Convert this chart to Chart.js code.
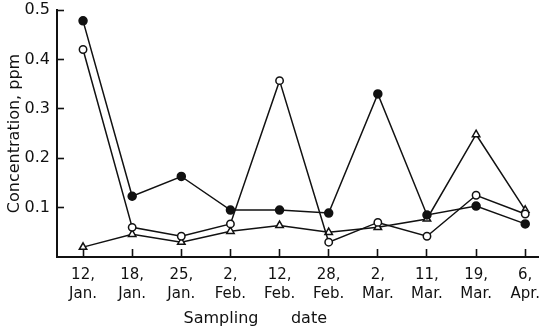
<!DOCTYPE html>
<html>
<head>
<meta charset="utf-8">
<script src="https://cdn.jsdelivr.net/npm/chart.js@4/dist/chart.umd.min.js"></script>
<style>
  html, body { margin: 0; padding: 0; background: #fff; }
  #wrap { width: 540px; height: 328px; position: relative; }
</style>
</head>
<body>
<div id="wrap"><canvas id="c" width="540" height="328"></canvas></div>
<script>
// Sampling dates (day line + month line)
const dayLabels = ['12,', '18,', '25,', '2,', '12,', '28,', '2,', '11,', '19,', '6,'];
const monthLabels = ['Jan.', 'Jan.', 'Jan.', 'Feb.', 'Feb.', 'Feb.', 'Mar.', 'Mar.', 'Mar.', 'Apr.'];

// Concentrations, ppm
const filledCircles = [0.478, 0.123, 0.163, 0.095, 0.095, 0.089, 0.330, 0.085, 0.103, 0.067];
const openCircles   = [0.420, 0.060, 0.042, 0.067, 0.357, 0.030, 0.070, 0.042, 0.125, 0.087];
const openTriangles = [0.020, 0.046, 0.030, 0.052, 0.064, 0.050, 0.060, 0.077, 0.248, 0.095];

// Value-axis ticks
const yTickValues = [0.1, 0.2, 0.3, 0.4, 0.5];

const FONT = "'DejaVu Sans', sans-serif";
const INK = '#111';

const toPoints = arr => arr.map((v, i) => ({ x: i, y: v }));

// Spaced axis caption under the date labels
const xCaption = {
  id: 'xCaption',
  afterDraw(chart) {
    const ctx = chart.ctx;
    ctx.save();
    ctx.fillStyle = INK;
    ctx.font = "16px " + FONT;
    ctx.textAlign = 'center';
    ctx.textBaseline = 'alphabetic';
    ctx.fillText('Sampling', 221, 323);
    ctx.fillText('date', 309, 323);
    ctx.restore();
  }
};

const lineStyle = {
  borderColor: INK,
  borderWidth: 1.5,
  tension: 0,
  pointBorderColor: INK,
  pointBorderWidth: 1.5,
  pointHoverRadius: 5
};

// Tick marks point inward (negative length), labels pushed out by padding
const inwardGrid = len => ({
  display: true,
  drawOnChartArea: false,
  drawTicks: true,
  tickLength: -len,
  tickColor: INK,
  tickWidth: 1.6
});

new Chart(document.getElementById('c'), {
  type: 'line',
  data: {
    datasets: [
      Object.assign({}, lineStyle, {
        label: 'filled',
        data: toPoints(filledCircles),
        pointStyle: 'circle',
        pointRadius: 4,
        pointBackgroundColor: INK
      }),
      Object.assign({}, lineStyle, {
        label: 'open',
        data: toPoints(openCircles),
        pointStyle: 'circle',
        pointRadius: 3.7,
        pointBackgroundColor: '#fff'
      }),
      Object.assign({}, lineStyle, {
        label: 'triangle',
        data: toPoints(openTriangles),
        pointStyle: 'triangle',
        pointRadius: 4.3,
        pointBackgroundColor: '#fff'
      })
    ]
  },
  options: {
    responsive: false,
    animation: false,
    events: [],
    layout: { autoPadding: false, padding: { top: 10, right: 2, left: 0, bottom: 0 } },
    plugins: {
      legend: { display: false },
      tooltip: { enabled: false }
    },
    scales: {
      x: {
        type: 'linear',
        min: -0.53,
        max: 9.26,
        afterBuildTicks(scale) {
          scale.ticks = dayLabels.map((_, i) => ({ value: i }));
        },
        afterFit(scale) {
          scale.height = 71;
          scale.paddingLeft = 0;
          scale.paddingRight = 0;
        },
        grid: inwardGrid(8),
        border: { display: true, color: INK, width: 2 },
        ticks: {
          color: INK,
          padding: 16,
          maxRotation: 0,
          autoSkip: false,
          font: { family: FONT, size: 15, lineHeight: 1.3 },
          callback: (v, i) => [dayLabels[i], monthLabels[i]]
        }
      },
      y: {
        type: 'linear',
        min: 0,
        max: 0.5,
        afterBuildTicks(scale) {
          scale.ticks = yTickValues.map(v => ({ value: v }));
        },
        afterFit(scale) {
          scale.width = 57;
          scale.paddingTop = 0;
          scale.paddingBottom = 0;
        },
        grid: inwardGrid(7),
        border: { display: true, color: INK, width: 2 },
        title: {
          display: true,
          text: 'Concentration, ppm',
          color: INK,
          font: { family: FONT, size: 16 },
          padding: { top: 5, bottom: 0 }
        },
        ticks: {
          color: INK,
          padding: 14,
          font: { family: FONT, size: 16 },
          callback: v => v.toFixed(1)
        }
      }
    }
  },
  plugins: [xCaption]
});
</script>
</body>
</html>
